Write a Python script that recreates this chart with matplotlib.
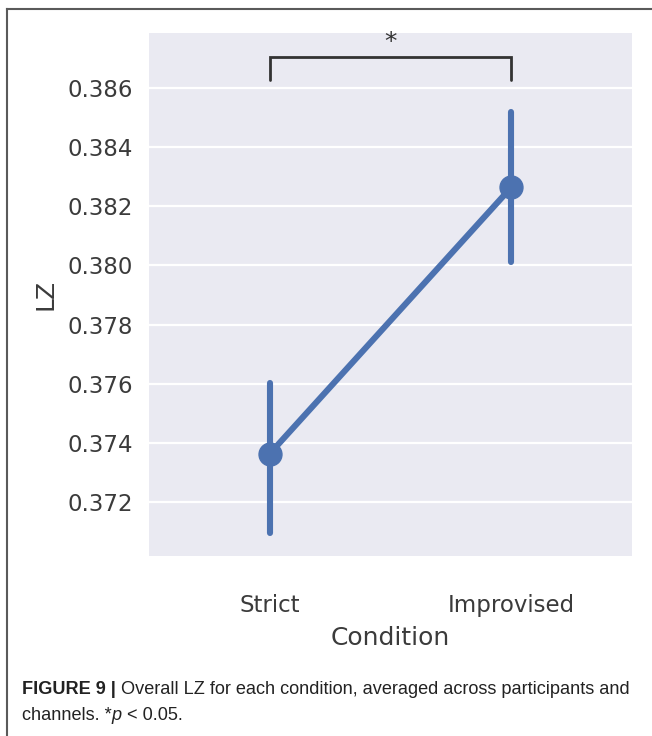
import matplotlib
matplotlib.use("Agg")
import matplotlib.pyplot as plt
from matplotlib.lines import Line2D

# Mean LZ per condition with 95% confidence interval bounds
conditions = ["Strict", "Improvised"]
mean_lz = [0.37363, 0.38264]
ci_low = [0.37095, 0.38010]
ci_high = [0.37603, 0.38518]
y_ticks = [0.372, 0.374, 0.376, 0.378, 0.380, 0.382, 0.384, 0.386]
y_limits = (0.37017, 0.38786)
sig_bracket = (0.38627, 0.38705)  # leg bottom, bar height
sig_label = "*"

blue = "#4C72B0"
bg = "#EAEAF2"
text_c = "#3b3b3b"

fig = plt.figure(figsize=(6.52, 7.36), dpi=100)
W, H = 652, 736

ax = fig.add_axes([149 / W, 1 - 556 / H, (632 - 149) / W, (556 - 33) / H])
ax.set_facecolor(bg)
for s in ax.spines.values():
    s.set_visible(False)

x = list(range(len(conditions)))

# confidence intervals
for xi, lo, hi in zip(x, ci_low, ci_high):
    ax.plot([xi, xi], [lo, hi], color=blue, lw=4.4, solid_capstyle="round", zorder=3)
# mean line and markers
ax.plot(x, mean_lz, color=blue, lw=4.4, marker="o", markersize=16.5,
        solid_capstyle="round", zorder=4)

ax.set_xlim(-0.5, len(conditions) - 0.5)
ax.set_ylim(*y_limits)
ax.set_yticks(y_ticks)
ax.set_yticklabels([f"{v:.3f}" for v in y_ticks])
ax.set_xticks(x)
ax.set_xticklabels(conditions)
ax.yaxis.grid(True, color="white", lw=1.6)
ax.xaxis.grid(False)
ax.set_axisbelow(True)
ax.tick_params(axis="both", length=0, labelsize=16.5, labelcolor=text_c)
ax.tick_params(axis="x", pad=27.5)
ax.tick_params(axis="y", pad=11.5)
ax.set_xlabel("Condition", fontsize=18, color=text_c, labelpad=6)
ax.set_ylabel("LZ", fontsize=18, color=text_c, labelpad=7)

# significance bracket
y0, y1 = sig_bracket
ax.plot([x[0], x[0], x[1], x[1]], [y0, y1, y1, y0], color="#333333", lw=2.0,
        solid_capstyle="round", solid_joinstyle="miter", clip_on=False, zorder=5)
ax.annotate(sig_label, xy=(0.5 * (x[0] + x[1]), y1), xytext=(0, 2),
            textcoords="offset points", ha="center", va="bottom",
            fontsize=18, color="#333333", annotation_clip=False)

# panel frame (top and left edges)
fig.add_artist(Line2D([7 / W, 1.0], [1 - 9 / H, 1 - 9 / H], color="#5a5a5a", lw=1.5,
                      transform=fig.transFigure))
fig.add_artist(Line2D([7 / W, 7 / W], [1 - 9 / H, 0.0], color="#5a5a5a", lw=1.5,
                      transform=fig.transFigure))

# caption
cap_kw = dict(fontsize=13.1, color="#222222", family="Liberation Sans")
t1 = fig.text(22 / W, 1 - 694 / H, "FIGURE 9 | ", fontweight="bold", va="baseline", **cap_kw)
fig.canvas.draw()
ax.annotate("Overall LZ for each condition, averaged across participants and",
            xy=(1, 0), xycoords=t1, va="bottom", ha="left", **cap_kw)
t2 = fig.text(22 / W, 1 - 720 / H, "channels. *", va="baseline", **cap_kw)
t3 = ax.annotate("p", xy=(1, 0), xycoords=t2, va="bottom", ha="left",
                 style="italic", **cap_kw)
ax.annotate(" < 0.05.", xy=(1, 0), xycoords=t3, va="bottom", ha="left", **cap_kw)

fig.savefig("out.png", dpi=100)
